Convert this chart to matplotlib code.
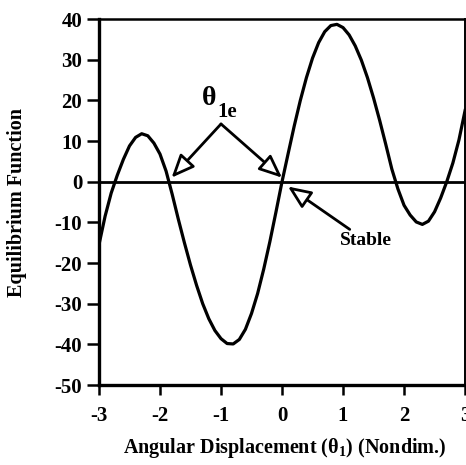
import matplotlib
matplotlib.use('Agg')
import matplotlib.pyplot as plt

plt.rcParams['font.family'] = ['Liberation Serif', 'DejaVu Serif']
plt.rcParams['font.weight'] = 'bold'
plt.rcParams['axes.unicode_minus'] = False
plt.rcParams['mathtext.fontset'] = 'custom'
plt.rcParams['mathtext.rm'] = 'Liberation Serif:bold'
plt.rcParams['mathtext.bf'] = 'Liberation Serif:bold'

# angular displacement (nondim.) and equilibrium function
theta = [-3.0, -2.9, -2.8, -2.7, -2.6, -2.5, -2.4, -2.3, -2.2, -2.1,
         -2.0, -1.9, -1.8, -1.7, -1.6, -1.5, -1.4, -1.3, -1.2, -1.1,
         -1.0, -0.9, -0.8, -0.7, -0.6, -0.5, -0.4, -0.3, -0.2, -0.1,
         0.0, 0.1, 0.2, 0.3, 0.4, 0.5, 0.6, 0.7, 0.8, 0.9,
         1.0, 1.1, 1.2, 1.3, 1.4, 1.5, 1.6, 1.7, 1.8, 1.9,
         2.0, 2.1, 2.2, 2.3, 2.4, 2.5, 2.6, 2.7, 2.8, 2.9, 3.0]
eq_func = [-15.5, -8.5, -2.8, 1.6, 5.5, 8.8, 10.9, 11.8, 11.3, 9.5,
           6.8, 2.6, -3.1, -9.2, -15.0, -20.5, -25.5, -30.0, -33.7, -36.6,
           -38.6, -39.8, -39.9, -38.8, -36.3, -32.4, -27.5, -21.5, -14.8, -7.5,
           0.0, 6.9, 13.7, 20.0, 25.6, 30.4, 34.2, 36.9, 38.4, 38.7,
           37.9, 36.1, 33.4, 29.9, 25.6, 20.6, 15.1, 9.2, 3.1, -1.8,
           -5.8, -8.2, -9.9, -10.5, -9.7, -7.4, -4.0, 0.0, 4.6, 10.3, 17.5]

xticks = [-3, -2, -1, 0, 1, 2, 3]
yticks = [-50, -40, -30, -20, -10, 0, 10, 20, 30, 40]

# equilibrium points the arrows point at
theta_1e = [-1.81, 0.0]
apex = (-1.0, 14.2)

fig = plt.figure(figsize=(4.66, 4.65), dpi=100)
ax = fig.add_axes([0.2124, 0.172, 0.7856, 0.787])

ax.axhline(0, color='black', lw=2.0)
ax.plot(theta, eq_func, color='black', lw=2.3)

ax.set_xlim(-3, 3)
ax.set_ylim(-50, 40)
ax.set_xticks(xticks)
ax.set_yticks(yticks)
ax.tick_params(direction='out', width=1.8, labelsize=15)
ax.tick_params(axis='y', length=9, pad=3)
ax.tick_params(axis='x', length=7, pad=8)
for lab in ax.get_xticklabels() + ax.get_yticklabels():
    lab.set_fontweight('bold')

ax.spines['left'].set_linewidth(2.4)
ax.spines['bottom'].set_linewidth(2.4)
ax.spines['top'].set_linewidth(1.8)
ax.spines['right'].set_linewidth(1.4)

ax.set_xlabel('Angular Displacement (θ$_1$) (Nondim.)', fontsize=14.5,
              fontweight='bold', va='center')
ax.set_ylabel('Equilibrium Function', fontsize=14.5, fontweight='bold',
              va='center')
ax.xaxis.set_label_coords(0.508, -0.172)
ax.yaxis.set_label_coords(-0.224, 0.5)

head = '-|>,head_length=0.7,head_width=0.3'
for t in theta_1e:
    ax.annotate('', xy=(t, 1.0), xytext=apex,
                arrowprops=dict(arrowstyle=head, fc='white', ec='black',
                                lw=2, mutation_scale=20, shrinkA=0, shrinkB=0))
ax.text(-1.2, 20.5, 'θ', fontsize=20, ha='center', va='center')
ax.text(-1.06, 17.2, '1e', fontsize=15, ha='left', va='center',
        fontweight='bold')

ax.annotate('Stable', xy=(0.06, -0.8), xytext=(0.95, -14.5),
            fontsize=14, fontweight='bold', ha='left', va='center',
            arrowprops=dict(arrowstyle=head, fc='white', ec='black',
                            lw=2, mutation_scale=20, shrinkA=0, shrinkB=2))

fig.savefig('out.png', dpi=100)
